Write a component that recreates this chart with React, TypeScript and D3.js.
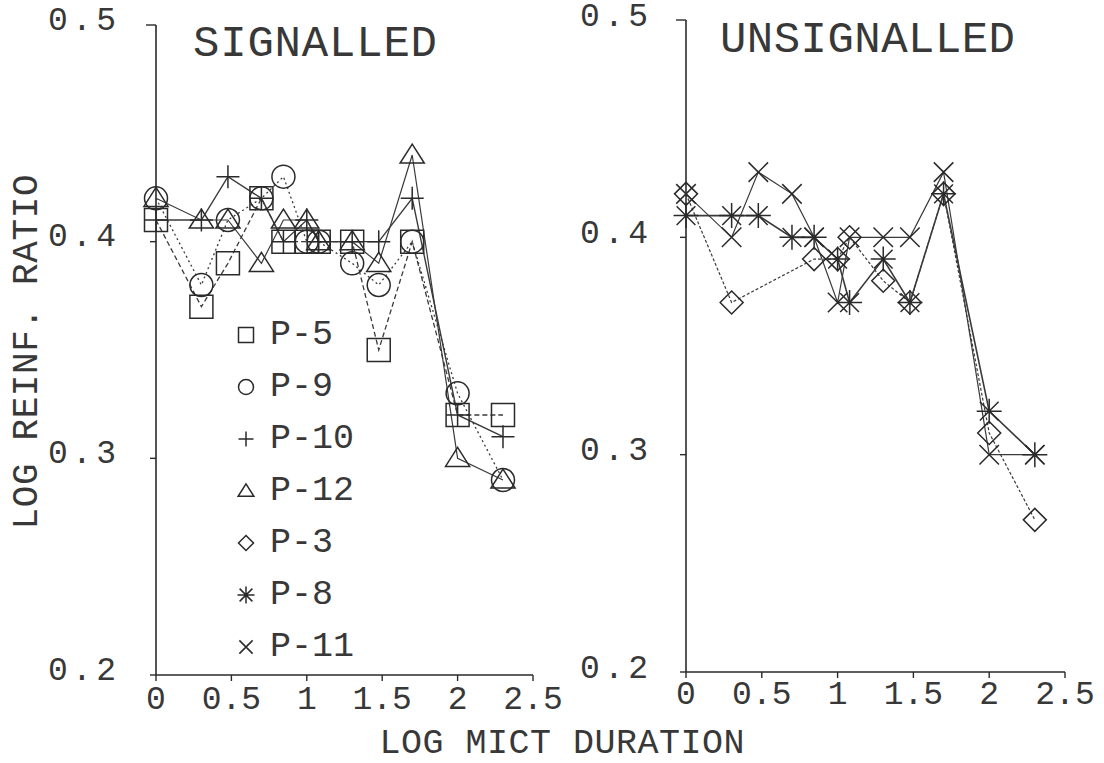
import React from "react";
import * as d3 from "d3";

// ---------- data ----------
const logMict = [0, 0.301, 0.477, 0.699, 0.845, 1.0, 1.079, 1.301, 1.477, 1.699, 2.0, 2.301];

// Signalled panel
const p5 = [0.41, 0.37, 0.39, 0.42, 0.40, 0.40, 0.40, 0.40, 0.35, 0.40, 0.32, 0.32];
const p9 = [0.42, 0.38, 0.41, 0.42, 0.43, 0.40, 0.40, 0.39, 0.38, 0.40, 0.33, 0.29];
const p10 = [0.41, 0.41, 0.43, 0.42, 0.40, 0.41, 0.40, 0.40, 0.40, 0.42, 0.32, 0.31];
const p12 = [0.42, 0.41, 0.41, 0.39, 0.41, 0.41, 0.40, 0.40, 0.39, 0.44, 0.30, 0.29];

// Unsignalled panel
const p3 = [0.42, 0.37, null, null, 0.39, 0.39, 0.40, 0.38, 0.37, 0.42, 0.31, 0.27];
const p8 = [0.41, 0.41, 0.41, 0.40, 0.40, 0.39, 0.37, 0.39, 0.37, 0.42, 0.32, 0.30];
const p11 = [0.42, 0.40, 0.43, 0.42, 0.40, 0.37, 0.40, 0.40, 0.40, 0.43, 0.30, 0.30];

const xTicks = [0, 0.5, 1, 1.5, 2, 2.5];
const xTickLabels = ["0", "0.5", "1", "1.5", "2", "2.5"];
const yTicks = [0.2, 0.3, 0.4, 0.5];
const yTickLabels = ["0.2", "0.3", "0.4", "0.5"];

const legendNames = ["P-5", "P-9", "P-10", "P-12", "P-3", "P-8", "P-11"];
const legendShapes = ["square", "circle", "plus", "triangle", "diamond", "star", "x"];

const panelTitles = ["SIGNALLED", "UNSIGNALLED"];
const xTitle = "LOG MICT DURATION";
const yTitle = "LOG REINF. RATIO";

// ---------- helpers ----------
function markerPath(shape: string, r: number): string {
  const p = d3.path();
  switch (shape) {
    case "square":
      p.rect(-r, -r, 2 * r, 2 * r);
      break;
    case "circle":
      p.moveTo(r, 0);
      p.arc(0, 0, r, 0, Math.PI * 2);
      break;
    case "plus":
      p.moveTo(-r, 0); p.lineTo(r, 0);
      p.moveTo(0, -r); p.lineTo(0, r);
      break;
    case "triangle":
      p.moveTo(0, -r * 0.95); p.lineTo(r * 1.05, r * 0.7); p.lineTo(-r * 1.05, r * 0.7); p.closePath();
      break;
    case "diamond":
      p.moveTo(0, -r); p.lineTo(r, 0); p.lineTo(0, r); p.lineTo(-r, 0); p.closePath();
      break;
    case "star": {
      const d = r * 0.75;
      p.moveTo(0, -r); p.lineTo(0, r);
      p.moveTo(-r, 0); p.lineTo(r, 0);
      p.moveTo(-d, -d); p.lineTo(d, d);
      p.moveTo(-d, d); p.lineTo(d, -d);
      break;
    }
    case "x": {
      const d = r * 0.78;
      p.moveTo(-d, -d); p.lineTo(d, d);
      p.moveTo(-d, d); p.lineTo(d, -d);
      break;
    }
  }
  return p.toString();
}

const FONT = "'Liberation Mono', 'DejaVu Sans Mono', monospace";
const INK = "#2a2a2a";
const TXT = "#383838";

type Series = { name: string; values: (number | null)[]; shape: string; dash: string; width: number };

const leftSeries: Series[] = [
  { name: "P-5", values: p5, shape: "square", dash: "5,3", width: 1.3 },
  { name: "P-9", values: p9, shape: "circle", dash: "2,3", width: 1.3 },
  { name: "P-10", values: p10, shape: "plus", dash: "", width: 1.4 },
  { name: "P-12", values: p12, shape: "triangle", dash: "", width: 1.2 },
];
const rightSeries: Series[] = [
  { name: "P-3", values: p3, shape: "diamond", dash: "3,2", width: 1.2 },
  { name: "P-8", values: p8, shape: "star", dash: "", width: 1.6 },
  { name: "P-11", values: p11, shape: "x", dash: "", width: 1.2 },
];

type PanelGeom = { x0: number; x1: number; yBottom: number; yTop: number; labelRight: number; labelDy: number; xLabelY: number };

function Panel({ g, series, title, titleX, titleY, titleLen }: { g: PanelGeom; series: Series[]; title: string; titleX: number; titleY: number; titleLen: number }) {
  const x = d3.scaleLinear().domain([0, 2.5]).range([g.x0, g.x1]);
  const y = d3.scaleLinear().domain([0.2, 0.5]).range([g.yBottom, g.yTop]);
  const line = d3
    .line<{ x: number; v: number }>()
    .x((d) => x(d.x))
    .y((d) => y(d.v));
  return (
    <g>
      {/* axes */}
      <line x1={x(0)} x2={x(0)} y1={y(0.2)} y2={y(0.5)} stroke={INK} strokeWidth={1.6} />
      <line x1={x(0)} x2={x(2.5)} y1={y(0.2)} y2={y(0.2)} stroke={INK} strokeWidth={1.6} />
      {yTicks.map((t, i) => (
        <g key={"yt" + i}>
          <line x1={x(0) - (t === 0.5 ? 10 : 6)} x2={x(0)} y1={y(t)} y2={y(t)} stroke={INK} strokeWidth={1.4} />
          <text
            x={g.labelRight}
            y={y(t) + g.labelDy}
            textAnchor="end"
            dominantBaseline="central"
            fontFamily={FONT}
            fontSize={33}
            fill={TXT}
            textLength={68}
            lengthAdjust="spacing"
          >
            {yTickLabels[i]}
          </text>
        </g>
      ))}
      {xTicks.map((t, i) => (
        <g key={"xt" + i}>
          <line x1={x(t)} x2={x(t)} y1={y(0.2)} y2={y(0.2) + 6} stroke={INK} strokeWidth={1.4} />
          <text x={x(t)} y={g.xLabelY} textAnchor="middle" fontFamily={FONT} fontSize={33} fill={TXT}>
            {xTickLabels[i]}
          </text>
        </g>
      ))}
      <text x={titleX} y={titleY} fontFamily={FONT} fontSize={44} fill={TXT} textLength={titleLen} lengthAdjust="spacing">
        {title}
      </text>
      {/* lines */}
      {series.map((s) => {
        const pts = logMict
          .map((xv, i) => ({ x: xv, v: s.values[i] }))
          .filter((d) => d.v !== null) as { x: number; v: number }[];
        return (
          <path
            key={"l" + s.name}
            d={line(pts) || ""}
            fill="none"
            stroke="#3a3a3a"
            strokeWidth={s.width}
            strokeDasharray={s.dash || undefined}
          />
        );
      })}
      {/* markers */}
      {series.map((s) =>
        logMict.map((xv, i) =>
          s.values[i] === null ? null : (
            <path
              key={"m" + s.name + i}
              d={markerPath(s.shape, s.shape === "star" || s.shape === "x" ? 12.5 : 11.5)}
              transform={`translate(${x(xv)},${y(s.values[i] as number)})`}
              fill="none"
              stroke={INK}
              strokeWidth={1.5}
            />
          )
        )
      )}
    </g>
  );
}

export default function App() {
  const left: PanelGeom = { x0: 156, x1: 533, yBottom: 675, yTop: 25, labelRight: 116, labelDy: -4, xLabelY: 709 };
  const right: PanelGeom = { x0: 686, x1: 1065, yBottom: 672, yTop: 20, labelRight: 648, labelDy: -3, xLabelY: 704 };
  const legendX = 246;
  const legendY0 = 335;
  const legendStep = 52;
  return (
    <svg width={1104} height={763} style={{ position: "absolute", left: 0, top: 0, background: "#fff" }}>
      <rect x={0} y={0} width={1104} height={763} fill="#fff" />
      <Panel g={left} series={leftSeries} title={panelTitles[0]} titleX={193} titleY={56} titleLen={244} />
      <Panel g={right} series={rightSeries} title={panelTitles[1]} titleX={720} titleY={52} titleLen={295} />
      {/* legend */}
      {legendNames.map((n, i) => (
        <g key={"lg" + i} transform={`translate(${legendX},${legendY0 + i * legendStep})`}>
          <path
            d={markerPath(legendShapes[i], legendShapes[i] === "star" || legendShapes[i] === "x" ? 8.5 : 7.5)}
            fill="none"
            stroke={INK}
            strokeWidth={1.5}
          />
          <text x={24} y={0} dominantBaseline="central" fontFamily={FONT} fontSize={35} fill={TXT}>
            {n}
          </text>
        </g>
      ))}
      {/* axis titles */}
      <text x={562} y={753} textAnchor="middle" fontFamily={FONT} fontSize={35} fill={TXT} textLength={365} lengthAdjust="spacing">
        {xTitle}
      </text>
      <text
        transform="translate(37,352) rotate(-90)"
        textAnchor="middle"
        fontFamily={FONT}
        fontSize={36}
        fill={TXT}
        textLength={355}
        lengthAdjust="spacing"
      >
        {yTitle}
      </text>
    </svg>
  );
}
